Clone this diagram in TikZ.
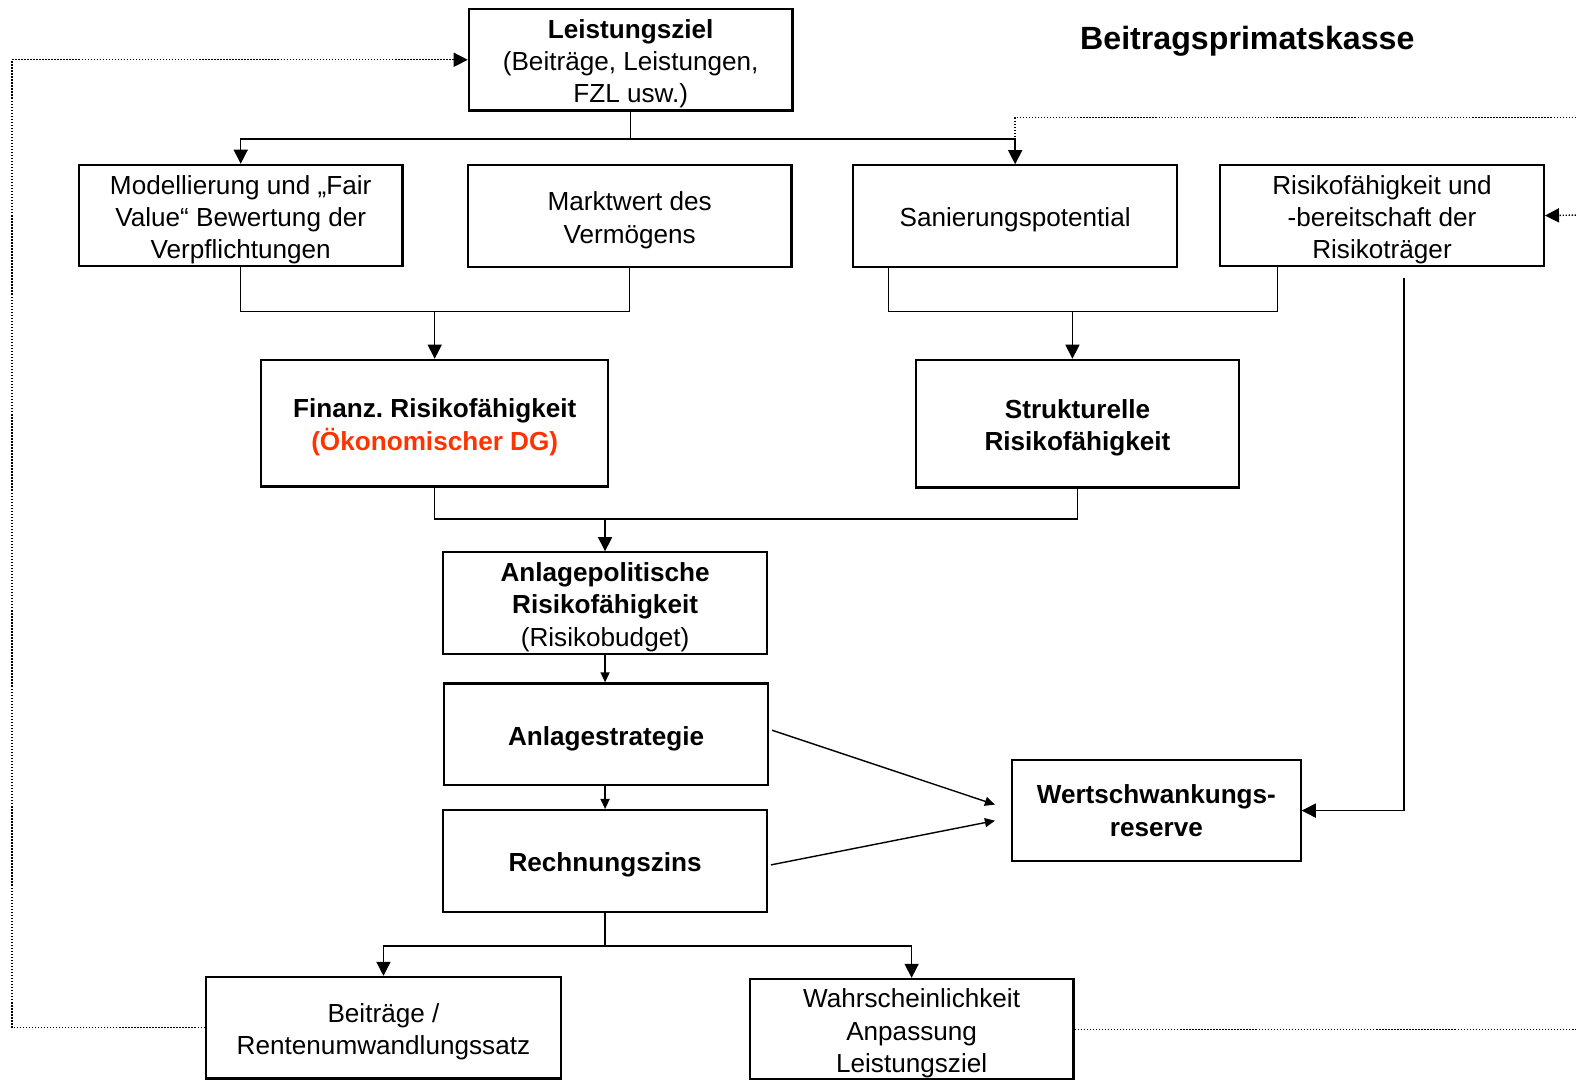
\documentclass[tikz,border=0pt]{standalone}
\usepackage{fontspec}
\setmainfont{Liberation Sans}
\usetikzlibrary{arrows.meta,calc}
\definecolor{DGred}{RGB}{255,51,0}
\frenchspacing
\newcommand{\topgap}{\rule{0pt}{13.5pt}}

\begin{document}
\begin{tikzpicture}[
      x=0.5pt, y=-0.5pt,
      plain box/.style={draw, line width=1.1pt, align=center, inner sep=0pt,
        minimum width=161pt, minimum height=50.5pt, font=\fontsize{13}{16}\selectfont},
      bold box/.style={plain box, font=\fontsize{13}{16}\selectfont\bfseries},
      link/.style={line width=0.7pt},
      big tip/.style={link, -{Triangle[length=7pt,width=7pt]}},
      small tip/.style={link, -{Triangle[length=5pt,width=4.5pt]}},
      feedback/.style={line width=0.7pt, dash pattern=on 0.7pt off 0.8pt}]
    \useasboundingbox (0,0) rectangle (1568,1074);

    % boxes
    \node[plain box] (ziel) at (627.5,59.5) {\topgap\textbf{Leistungsziel}\\(Beiträge, Leistungen,\\FZL usw.)};
    \node[font=\fontsize{16}{19}\selectfont\bfseries] (titel) at (1241,41) {Beitragsprimatskasse};
    \node[plain box] (fair) at (239.5,214.5) {\topgap Modellierung und „Fair\\Value“ Bewertung der\\Verpflichtungen};
    \node[plain box] (markt) at (626.5,215) {\topgap Marktwert des\\Vermögens};
    \node[plain box] (sanierung) at (1010,215) {\topgap Sanierungspotential};
    \node[plain box] (traeger) at (1375,214.5) {\topgap Risikofähigkeit und\\-bereitschaft der\\Risikoträger};
    \node[bold box, minimum width=172.5pt, minimum height=63pt] (finanz) at (432.5,421) {\topgap Finanz. Risikofähigkeit\\\textcolor{DGred}{(Ökonomischer DG)}};
    \node[bold box, minimum height=63.5pt] (struktur) at (1072,421.5) {\topgap Strukturelle\\Risikofähigkeit};
    \node[plain box] (anlpol) at (602,600) {\topgap\textbf{Anlagepolitische}\\\textbf{Risikofähigkeit}\\(Risikobudget)};
    \node[bold box] (strategie) at (603,730.5) {\topgap Anlagestrategie};
    \node[bold box] (zins) at (602,856.5) {\topgap Rechnungszins};
    \node[bold box, minimum width=143.5pt] (wsr) at (1150.5,806.5) {Wertschwankungs-\\reserve};
    \node[plain box, minimum width=176.5pt] (beitraege) at (381.5,1022.5) {\topgap Beiträge /\\Rentenumwandlungssatz};
    \node[plain box, minimum height=50pt] (wahrsch) at (907,1024) {\topgap Wahrscheinlichkeit\\Anpassung\\Leistungsziel};

    % forks
    \coordinate (ziel fork) at ($(ziel.south)+(0,27)$);
    \coordinate (fm fork) at ($(finanz.north)+(0,-47)$);
    \coordinate (st fork) at (1067,310);
    \coordinate (fs fork) at ($(anlpol.north)+(0,-32)$);
    \coordinate (zins fork) at ($(zins.south)+(0,33)$);

    \draw[link] (ziel.south) -- (ziel fork);
    \draw[big tip] (ziel fork) -| (fair.north);
    \draw[big tip] (ziel fork) -| (sanierung.north);

    \draw[link] (fair.south) |- (fm fork) -| (markt.south);
    \draw[big tip] (fm fork) -- (finanz.north);

    \draw[link] ($(sanierung.south west)+(36,0)$) |- (st fork) -| ($(traeger.south west)+(58,0)$);
    \draw[big tip] (st fork) -- (st fork |- struktur.north);
    \draw[big tip] ($(traeger.south west)+(184,10)$) |- (wsr.east);

    \draw[link] (finanz.south) |- (fs fork) -| (struktur.south);
    \draw[big tip] (fs fork) -- (anlpol.north);

    \draw[small tip] (anlpol.south) -- (anlpol.south |- strategie.north);
    \draw[small tip] (strategie.south -| zins.north) -- (zins.north);
    \draw[small tip] ($(strategie.east)+(3,-4)$) -- ($(wsr.west)+(-16,-6)$);
    \draw[small tip] ($(zins.east)+(3,4)$) -- ($(wsr.west)+(-16,10)$);

    \draw[link] (zins.south) -- (zins fork);
    \draw[big tip] (zins fork) -| (beitraege.north);
    \draw[big tip] (zins fork) -| (wahrsch.north);

    % dotted feedback
    \coordinate (left rail) at (12,0);
    \coordinate (top feed) at (1568,117);
    \coordinate (mid feed) at (1568,214);
    \coordinate (low feed) at (1568,1024);
    \draw[feedback, -{Triangle[length=7pt,width=7pt]}] (beitraege.west) -| (left rail |- ziel.west) -- (ziel.west);
    \draw[feedback] (top feed) -| (sanierung.north |- ziel fork);
    \draw[feedback, -{Triangle[length=7pt,width=7pt]}] (mid feed) -- (traeger.east);
    \draw[feedback] (wahrsch.east) -- (low feed);
\end{tikzpicture}
\end{document}
